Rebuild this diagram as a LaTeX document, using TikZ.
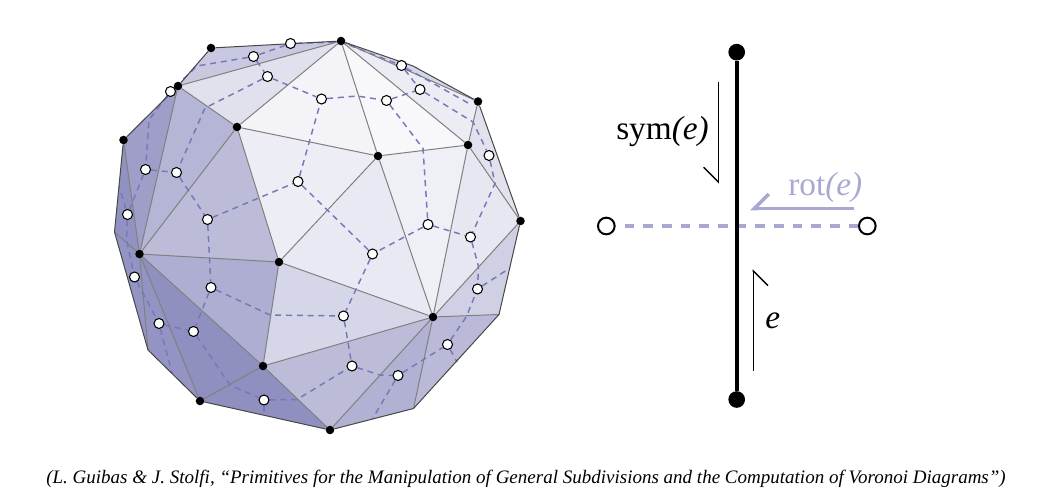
\documentclass[tikz,border=0pt]{standalone}
\usepackage{fontspec}
\setmainfont{Liberation Serif}
\usepackage{xcolor}
\usetikzlibrary{arrows.meta,backgrounds}
\definecolor{voro}{HTML}{8F90C0}
\definecolor{dualline}{HTML}{7778B8}
\definecolor{rotline}{HTML}{A8A9D2}
\tikzset{
  vert/.style={circle, fill=black, inner sep=0pt, minimum size=6.4pt},
  site/.style={circle, draw=black, fill=white, line width=.8pt, inner sep=0pt, minimum size=7.5pt},
  edge/.style={draw=black!50, line width=.75pt},
  hull/.style={draw=black!72, line width=.75pt},
  dual/.style={draw=dualline, line width=1.1pt, dash pattern=on 4.5pt off 3.6pt},
  bigvert/.style={circle, fill=black, inner sep=0pt, minimum size=12.5pt},
  bigsite/.style={circle, draw=black, fill=white, line width=1.5pt, inner sep=0pt, minimum size=12.5pt},
  lbl/.style={inner sep=0pt, font=\fontsize{25}{30}\selectfont}
}
\begin{document}
\begin{tikzpicture}[x=.75pt, y=-.75pt]
  \useasboundingbox (0,0) rectangle (1038,496);
  % primal vertices
  \node[vert] (A) at (211,48) {};
  \node[vert] (B) at (178,86) {};
  \node[vert] (C) at (123.5,140) {};
  \node[vert] (D) at (237,127) {};
  \node[vert] (T) at (341,41) {};
  \node[vert] (E) at (478,101.5) {};
  \node[vert] (F) at (468,145) {};
  \node[vert] (G) at (378,156) {};
  \node[vert] (H) at (520.5,221) {};
  \node[vert] (I) at (139.5,254) {};
  \node[vert] (J) at (279,262) {};
  \node[vert] (K) at (263,366) {};
  \node[vert] (L) at (200,401) {};
  \node[vert] (M) at (433,317) {};
  \node[vert] (N) at (330,430) {};
  \coordinate (O) at (114.5,232);
  \coordinate (P) at (148,350);
  \coordinate (Q) at (413.5,408.5);
  \coordinate (R) at (499,314.5);
  \coordinate (S) at (413,66);
  % dual vertices
  \node[site] (w1) at (290.5,43.5) {};
  \node[site] (w2) at (253.5,56.5) {};
  \node[site] (w3) at (267.5,76.5) {};
  \node[site] (w4) at (170.5,91.5) {};
  \node[site] (w5) at (145.5,169.5) {};
  \node[site] (w6) at (176.5,172.5) {};
  \node[site] (w7) at (207.5,219.5) {};
  \node[site] (w8) at (298,181.5) {};
  \node[site] (w9) at (127.5,214.5) {};
  \node[site] (w10) at (321.5,99) {};
  \node[site] (w11) at (386.5,100.5) {};
  \node[site] (w12) at (401.5,65.5) {};
  \node[site] (w13) at (420,89.5) {};
  \node[site] (w14) at (489,155.5) {};
  \node[site] (w15) at (428,224.5) {};
  \node[site] (w16) at (470.5,237) {};
  \node[site] (w17) at (134.5,277) {};
  \node[site] (w18) at (211,287.5) {};
  \node[site] (w19) at (159,323.5) {};
  \node[site] (w20) at (193.5,331.5) {};
  \node[site] (w21) at (264,400) {};
  \node[site] (w22) at (372.5,254) {};
  \node[site] (w23) at (343.5,316) {};
  \node[site] (w24) at (352,366) {};
  \node[site] (w25) at (398,375.5) {};
  \node[site] (w26) at (447.5,344.5) {};
  \node[site] (w27) at (477.5,289) {};
  % bends of the dual edges, free ends on the hull
  \coordinate (b1) at (205,108);
  \coordinate (b2) at (270,315);
  \coordinate (b3) at (230,385);
  \coordinate (b4) at (297,399.5);
  \coordinate (b5) at (380,375);
  \coordinate (b6) at (197,66);
  \coordinate (b7) at (473,122);
  \coordinate (b8) at (423,148.5);
  \coordinate (b9) at (495,183.5);
  \coordinate (b10) at (478.5,266.5);
  \coordinate (b11) at (466.5,316.5);
  \coordinate (b12) at (149,120);
  \coordinate (b13) at (357,96);
  \coordinate (b14) at (341,42);
  \coordinate (b15) at (126.5,240);
  \coordinate (x1) at (264,415);
  \coordinate (x2) at (373,418);
  \coordinate (x3) at (457,362);
  \coordinate (x4) at (510,268);
  \coordinate (x5) at (172,373.5);
  \coordinate (x6) at (119,186);
  \coordinate (x7) at (468,103);
  \begin{scope}[on background layer]
    % faces
    \fill[voro!49] (A.center) -- (B.center) -- (T.center) -- cycle;
    \fill[voro!27] (B.center) -- (D.center) -- (T.center) -- cycle;
    \fill[voro!11] (T.center) -- (D.center) -- (G.center) -- cycle;
    \fill[voro!6] (T.center) -- (G.center) -- (F.center) -- cycle;
    \fill[voro!17] (T.center) -- (F.center) -- (E.center) -- cycle;
    \fill[voro!38] (T.center) -- (S) -- (E.center) -- cycle;
    \fill[voro!26] (E.center) -- (F.center) -- (H.center) -- cycle;
    \fill[voro!22] (H.center) -- (F.center) -- (M.center) -- cycle;
    \fill[voro!14] (F.center) -- (G.center) -- (M.center) -- cycle;
    \fill[voro!20] (G.center) -- (J.center) -- (M.center) -- cycle;
    \fill[voro!16] (D.center) -- (G.center) -- (J.center) -- cycle;
    \fill[voro!60] (D.center) -- (I.center) -- (J.center) -- cycle;
    \fill[voro!66] (B.center) -- (D.center) -- (I.center) -- cycle;
    \fill[voro!87] (B.center) -- (C.center) -- (I.center) -- cycle;
    \fill[voro!98] (C.center) -- (O) -- (I.center) -- cycle;
    \fill[voro!96] (O) -- (P) -- (I.center) -- cycle;
    \fill[voro!96] (P) -- (L.center) -- (I.center) -- cycle;
    \fill[voro] (I.center) -- (L.center) -- (K.center) -- cycle;
    \fill[voro!73] (I.center) -- (J.center) -- (K.center) -- cycle;
    \fill[voro!37] (J.center) -- (M.center) -- (K.center) -- cycle;
    \fill[voro!60] (K.center) -- (M.center) -- (N.center) -- cycle;
    \fill[voro] (K.center) -- (L.center) -- (N.center) -- cycle;
    \fill[voro!70] (M.center) -- (N.center) -- (Q) -- cycle;
    \fill[voro!62] (M.center) -- (Q) -- (R) -- cycle;
    \fill[voro!42] (M.center) -- (R) -- (H.center) -- cycle;
    % edges
    \draw[edge] (B) -- (T);
    \draw[edge] (B) -- (D);
    \draw[edge] (T) -- (D);
    \draw[edge] (T) -- (G);
    \draw[edge] (T) -- (F);
    \draw[edge] (T) -- (E);
    \draw[edge] (D) -- (G);
    \draw[edge] (D) -- (J);
    \draw[edge] (D) -- (I);
    \draw[edge] (G) -- (F);
    \draw[edge] (G) -- (J);
    \draw[edge] (G) -- (M);
    \draw[edge] (F) -- (M);
    \draw[edge] (F) -- (E);
    \draw[edge] (F) -- (H);
    \draw[edge] (H) -- (M);
    \draw[edge] (J) -- (M);
    \draw[edge] (K) -- (M);
    \draw[edge] (N) -- (M);
    \draw[edge] (Q) -- (M);
    \draw[edge] (R) -- (M);
    \draw[edge] (J) -- (K);
    \draw[edge] (J) -- (I);
    \draw[edge] (I) -- (K);
    \draw[edge] (K) -- (L);
    \draw[edge] (K) -- (N);
    \draw[edge] (I) -- (L);
    \draw[edge] (I) -- (P);
    \draw[edge] (I) -- (B);
    \draw[edge] (I) -- (C);
    \draw[edge] (I) -- (O);
    % dual edges
    \draw[dual] (w1) -- (w2);
    \draw[dual] (w2) -- (w3);
    \draw[dual] (w2) -- (b6) -- (w4);
    \draw[dual] (w1) -- (b14) -- (w12);
    \draw[dual] (w3) -- (w10);
    \draw[dual] (w3) -- (b1) -- (w6);
    \draw[dual] (w4) -- (b12) -- (w5);
    \draw[dual] (w5) -- (w6);
    \draw[dual] (w5) -- (w9);
    \draw[dual] (w6) -- (w7);
    \draw[dual] (w7) -- (w8);
    \draw[dual] (w7) -- (w18);
    \draw[dual] (w8) -- (w10);
    \draw[dual] (w8) -- (w22);
    \draw[dual] (w9) -- (x6);
    \draw[dual] (w9) -- (b15) -- (w17);
    \draw[dual] (w10) -- (b13) -- (w11);
    \draw[dual] (w11) -- (w13);
    \draw[dual] (w11) -- (b8) -- (w15);
    \draw[dual] (w12) -- (w13);
    \draw[dual] (w12) -- (x7);
    \draw[dual] (w13) -- (b7) -- (w14);
    \draw[dual] (w14) -- (b9) -- (w16);
    \draw[dual] (w15) -- (w16);
    \draw[dual] (w15) -- (w22);
    \draw[dual] (w16) -- (b10) -- (w27);
    \draw[dual] (w17) -- (w19);
    \draw[dual] (w18) -- (w20);
    \draw[dual] (w18) -- (b2) -- (w23);
    \draw[dual] (w19) -- (w20);
    \draw[dual] (w19) -- (x5);
    \draw[dual] (w20) -- (b3) -- (w21);
    \draw[dual] (w21) -- (b4) -- (w24);
    \draw[dual] (w21) -- (x1);
    \draw[dual] (w22) -- (w23);
    \draw[dual] (w23) -- (w24);
    \draw[dual] (w24) -- (b5) -- (w25);
    \draw[dual] (w25) -- (x2);
    \draw[dual] (w25) -- (w26);
    \draw[dual] (w26) -- (x3);
    \draw[dual] (w26) -- (b11) -- (w27);
    \draw[dual] (w27) -- (x4);
    % outline
    \draw[hull] (T) -- (S) -- (E);
    \draw[hull] (E) -- (H);
    \draw[hull] (H) -- (R) -- (Q) -- (N);
    \draw[hull] (N) -- (L);
    \draw[hull] (L) -- (P) -- (O) -- (C);
    \draw[hull] (C) -- (B);
    \draw[hull] (B) -- (A);
    \draw[hull] (A) -- (T);
  \end{scope}
  % quad edge on the right
  \node[bigvert] (orig) at (736.7,399.5) {};
  \node[bigvert, node distance=260.5pt] (dest) [above of=orig] {};
  \node[bigsite] (left) at (606.3,226) {};
  \node[bigsite, node distance=195.75pt] (right) [right of=left] {};
  \coordinate (symS) at (718.3,81.7);
  \coordinate (symE) at (718.3,183.5);
  \coordinate (rotS) at (854,208.7);
  \coordinate (rotE) at (750,208.7);
  \coordinate (eS) at (753.3,370.7);
  \coordinate (eE) at (753.3,269.3);
  \begin{scope}[on background layer]
    \draw[draw=rotline, line width=2.6pt, dash pattern=on 7.25pt off 6.75pt, dash phase=7.25pt] (left) -- (right);
    \draw[line width=3pt] (orig) -- (dest);
  \end{scope}
  \draw[line width=1pt, -{Straight Barb[right, length=11pt, width=22pt]}] (symS) -- (symE);
  \draw[line width=1pt, -{Straight Barb[right, length=11pt, width=22pt]}] (eS) -- (eE);
  \draw[draw=rotline, line width=2.6pt, -{Straight Barb[right, length=11pt, width=22pt]}] (rotS) -- (rotE);
  \node[lbl, anchor=base west] (lblsym) at (616,139.5) {sym\textit{(e)}};
  \node[lbl, anchor=base west, text=rotline] (lblrot) at (788,195) {rot\textit{(e)}};
  \node[lbl, anchor=base west] (lble) at (765,328) {\textit{e}};
  \node[inner sep=0pt, font=\fontsize{14.26}{17}\selectfont\itshape] (cite) at (526,478.5)
    {(L. Guibas \& J. Stolfi, “Primitives for the Manipulation of General Subdivisions and the Computation of Voronoi Diagrams”)};
\end{tikzpicture}
\end{document}
